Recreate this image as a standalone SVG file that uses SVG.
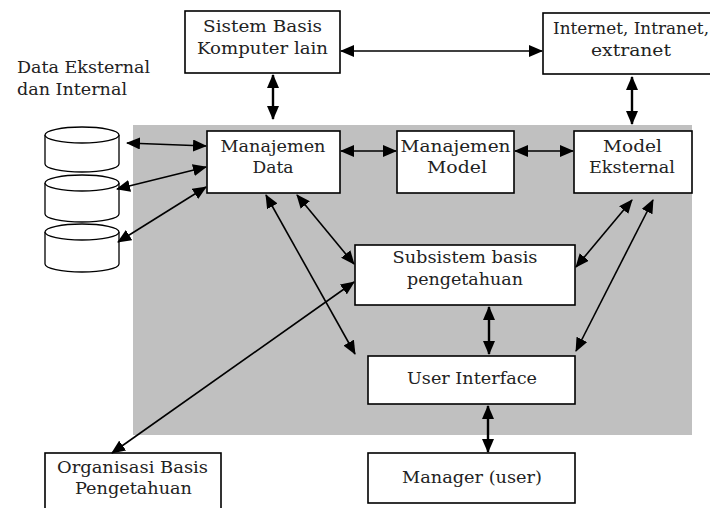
<svg xmlns="http://www.w3.org/2000/svg" width="710" height="508" viewBox="0 0 710 508">
<style>
.box{fill:#fff;stroke:#000;stroke-width:1.6}
.cyl{fill:#fff;stroke:#000;stroke-width:1.3}
text{fill:#222}
.c{text-anchor:middle}
.ln{stroke:#000;stroke-width:1.6;fill:none;marker-start:url(#ah);marker-end:url(#ah)}
.lt{stroke:#000;stroke-width:2.4;fill:none;marker-start:url(#ah);marker-end:url(#ah)}
</style>
<defs>
<marker id="ah" markerUnits="userSpaceOnUse" markerWidth="14" markerHeight="12" refX="13" refY="6" orient="auto-start-reverse" viewBox="0 0 14 12">
<path d="M0,0 L14,6 L0,12 z" fill="#000"/>
</marker>
</defs>
<rect x="0" y="0" width="710" height="508" fill="#fff"/>
<rect id="area" x="133" y="125" width="559" height="310" fill="#c0c0c0"/>

<g font-family="DejaVu Serif, Liberation Serif, Noto Serif, serif" font-size="17">
<g id="data-label">
<text x="17" y="73" textLength="133" lengthAdjust="spacingAndGlyphs">Data Eksternal</text>
<text x="17" y="95" textLength="110" lengthAdjust="spacingAndGlyphs">dan Internal</text>
</g>

<g id="cyl3">
<path class="cyl" d="M45,232 L45,264 A37,8 0 0 0 119,264 L119,232"/>
<ellipse class="cyl" cx="82" cy="232" rx="37" ry="8"/>
</g>
<g id="cyl2">
<path class="cyl" d="M45,183 L45,214 A37,8 0 0 0 119,214 L119,183"/>
<ellipse class="cyl" cx="82" cy="183" rx="37" ry="8"/>
</g>
<g id="cyl1">
<path class="cyl" d="M45,135 L45,164 A37,8 0 0 0 119,164 L119,135"/>
<ellipse class="cyl" cx="82" cy="135" rx="37" ry="8"/>
</g>

<g id="sbk">
<rect class="box" x="185" y="11" width="155" height="62"/>
<text class="c" x="262.5" y="32" textLength="119" lengthAdjust="spacingAndGlyphs">Sistem Basis</text>
<text class="c" x="262.5" y="54" textLength="131" lengthAdjust="spacingAndGlyphs">Komputer lain</text>
</g>
<g id="internet">
<rect class="box" x="543" y="13" width="180" height="61"/>
<text class="c" x="631" y="34" textLength="156" lengthAdjust="spacingAndGlyphs">Internet, Intranet,</text>
<text class="c" x="631" y="56" textLength="80" lengthAdjust="spacingAndGlyphs">extranet</text>
</g>
<g id="md">
<rect class="box" x="207" y="131" width="133" height="62"/>
<text class="c" x="273" y="152" textLength="105" lengthAdjust="spacingAndGlyphs">Manajemen</text>
<text class="c" x="273" y="173" textLength="41" lengthAdjust="spacingAndGlyphs">Data</text>
</g>
<g id="mm">
<rect class="box" x="397" y="131" width="117" height="62"/>
<text class="c" x="455.5" y="152" textLength="110" lengthAdjust="spacingAndGlyphs">Manajemen</text>
<text class="c" x="457" y="173" textLength="60" lengthAdjust="spacingAndGlyphs">Model</text>
</g>
<g id="me">
<rect class="box" x="574" y="131" width="118" height="62"/>
<text class="c" x="632.5" y="152" textLength="59" lengthAdjust="spacingAndGlyphs">Model</text>
<text class="c" x="632" y="173" textLength="86" lengthAdjust="spacingAndGlyphs">Eksternal</text>
</g>
<g id="sub">
<rect class="box" x="355" y="245" width="220" height="60"/>
<text class="c" x="465" y="263" textLength="145" lengthAdjust="spacingAndGlyphs">Subsistem basis</text>
<text class="c" x="465" y="285" textLength="116" lengthAdjust="spacingAndGlyphs">pengetahuan</text>
</g>
<g id="ui">
<rect class="box" x="368" y="356" width="207" height="48"/>
<text class="c" x="472" y="384" textLength="130" lengthAdjust="spacingAndGlyphs">User Interface</text>
</g>
<g id="mgr">
<rect class="box" x="368" y="453" width="207" height="50"/>
<text class="c" x="472" y="483" textLength="140" lengthAdjust="spacingAndGlyphs">Manager (user)</text>
</g>
<g id="org">
<rect class="box" x="45" y="453" width="176" height="60"/>
<text class="c" x="132.5" y="473" textLength="151" lengthAdjust="spacingAndGlyphs">Organisasi Basis</text>
<text class="c" x="133.5" y="494" textLength="117" lengthAdjust="spacingAndGlyphs">Pengetahuan</text>
</g>
</g>

<g id="connectors">
<line class="ln" x1="341" y1="51" x2="542" y2="51"/>
<line class="lt" x1="273" y1="75" x2="273" y2="119"/>
<line class="lt" x1="632" y1="77" x2="632" y2="124"/>
<line class="ln" x1="341" y1="151" x2="396" y2="151"/>
<line class="ln" x1="515" y1="151" x2="573" y2="151"/>
<line class="ln" x1="127" y1="143" x2="206" y2="146"/>
<line class="ln" x1="117" y1="189" x2="206" y2="167"/>
<line class="ln" x1="118" y1="242" x2="206" y2="187"/>
<line class="ln" x1="266" y1="195" x2="355" y2="354"/>
<line class="ln" x1="297" y1="195" x2="354" y2="264"/>
<line class="ln" x1="112" y1="453" x2="354" y2="282"/>
<line class="ln" x1="632" y1="200" x2="576" y2="267"/>
<line class="ln" x1="653" y1="200" x2="576" y2="351"/>
<line class="lt" x1="489" y1="307" x2="489" y2="354"/>
<line class="lt" x1="488" y1="406" x2="488" y2="452"/>
</g>
</svg>
